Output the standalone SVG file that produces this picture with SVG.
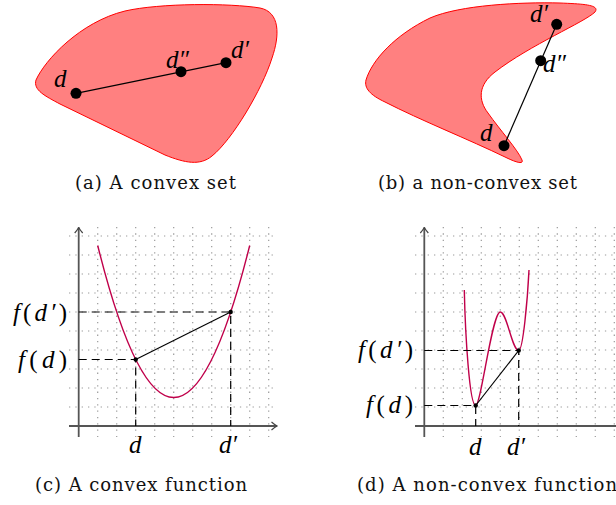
<svg xmlns="http://www.w3.org/2000/svg" width="616" height="505" viewBox="0 0 616 505">
<defs>
<style>
.blob{fill:#ff8080;stroke:#ff0000;stroke-width:1}
.pt{fill:#000}
.seg{stroke:#000;stroke-width:1.2;fill:none}
.dash{stroke:#000;stroke-width:1.2;fill:none;stroke-dasharray:8 5}
.grid{stroke:#9a9a9a;stroke-width:1.2;fill:none;stroke-dasharray:1.3 5.03}
.axis{stroke:#555;stroke-width:1.8;fill:none}
.curve{stroke:#c0004a;stroke-width:1.4;fill:none}
.m{font-family:"Liberation Serif","Times New Roman",serif;font-size:25px;font-style:italic;fill:#000}
.up{font-style:normal}
.cap{font-family:"DejaVu Serif","Liberation Serif",serif;font-size:18px;fill:#111}
</style>
<marker id="arr" viewBox="-7 -5 8 10" refX="0" refY="0" markerWidth="8" markerHeight="10" orient="auto" markerUnits="userSpaceOnUse">
<path d="M-5.5,-4 Q-2,-1 0,0 Q-2,1 -5.5,4" fill="none" stroke="#444" stroke-width="1.2"/>
</marker>
</defs>

<!-- Panel (a) -->
<g id="panel-a">
<path class="blob" d="M36,80 C45,60 80,22 125,11 C160,3 230,3 260,8 C280,12 280,35 272,58 C262,90 232,140 212,156 C200,166 185,163 165,155 L60,104 C45,96 33,90 36,80 Z"/>
</g>
<g id="connectors-a"><line class="seg" x1="76" y1="93.3" x2="226" y2="62.7"/></g>
<g id="a-d"><circle class="pt" cx="76" cy="93.3" r="5.5"/><text class="m" x="54" y="87">d</text></g>
<g id="a-d2"><circle class="pt" cx="181" cy="71.7" r="5.5"/><text class="m" x="166" y="68">d″</text></g>
<g id="a-d1"><circle class="pt" cx="226" cy="62.7" r="5.5"/><text class="m" x="231" y="58">d′</text></g>
<text class="cap" x="75" y="189" textLength="161" lengthAdjust="spacing">(a) A convex set</text>

<!-- Panel (b) -->
<g id="panel-b">
<path class="blob" d="M366,80 C372,60 395,35 430,18 C460,5 520,2 560,3 C585,4 600,5 595,12 C585,22 530,45 495,72 C478,85 478,100 488,113 C500,130 518,150 522,160 C524,165 515,162 505,157 C470,140 420,120 385,102 C370,95 364,88 366,80 Z"/>
</g>
<g id="connectors-b"><line class="seg" x1="504" y1="145.7" x2="556.7" y2="24.3"/></g>
<g id="b-d"><circle class="pt" cx="504" cy="145.7" r="5.5"/><text class="m" x="480" y="141">d</text></g>
<g id="b-d2"><circle class="pt" cx="540.7" cy="60.7" r="5.5"/><text class="m" x="543" y="72">d″</text></g>
<g id="b-d1"><circle class="pt" cx="556.7" cy="24.3" r="5.5"/><text class="m" x="530" y="22">d′</text></g>
<text class="cap" x="378" y="189" textLength="199" lengthAdjust="spacing">(b) a non-convex set</text>

<!-- Panel (c) -->
<g id="panel-c">
<path class="grid" d="M69,407H276M69,388H276M69,369H276M69,350H276M69,331H276M69,312H276M69,293H276M69,274H276M69,255H276M69,236H276M97.7,227V437M116.7,227V437M135.7,227V437M154.7,227V437M173.7,227V437M192.7,227V437M211.7,227V437M230.7,227V437M249.7,227V437M268.7,227V437"/>
<line class="axis" x1="78.7" y1="437" x2="78.7" y2="227.5" marker-end="url(#arr)"/>
<line class="axis" x1="69" y1="426" x2="277" y2="426" marker-end="url(#arr)"/>
<path class="curve" d="M97.7,245.5 Q173.7,549.5 249.7,245.5"/>
</g>
<g id="connectors-c">
<path class="dash" d="M78.7,312H230.7V426M78.7,359.5H135.7V426"/>
<line class="seg" x1="135.7" y1="359.5" x2="230.7" y2="312"/>
</g>
<g id="c-d"><circle class="pt" cx="135.7" cy="359.5" r="2.2"/><text class="m" x="129" y="453">d</text></g>
<g id="c-d1"><circle class="pt" cx="230.7" cy="312" r="2.2"/><text class="m" x="219" y="453">d′</text></g>
<text class="m" x="13" y="321" textLength="54" lengthAdjust="spacing">f<tspan class="up">(</tspan>d′<tspan class="up">)</tspan></text>
<text class="m" x="18" y="368" textLength="49" lengthAdjust="spacing">f<tspan class="up">(</tspan>d<tspan class="up">)</tspan></text>
<text class="cap" x="35" y="491" textLength="212" lengthAdjust="spacing">(c) A convex function</text>

<!-- Panel (d) -->
<g id="panel-d">
<path class="grid" d="M415,407H616M415,388H616M415,369H616M415,350H616M415,331H616M415,312H616M415,293H616M415,274H616M415,255H616M415,236H616M443.3,227V437M462.3,227V437M481.3,227V437M500.3,227V437M519.3,227V437M538.3,227V437M557.3,227V437M576.3,227V437M595.3,227V437M614.3,227V437"/>
<line class="axis" x1="424.3" y1="437" x2="424.3" y2="227.5" marker-end="url(#arr)"/>
<line class="axis" x1="415" y1="426" x2="620" y2="426"/>
<path class="curve" d="M464.3,290 C465.3,335 469.5,405.5 475.7,405.5 C481,405.5 492,312 500.3,312 C507,312 512,350.5 518.7,350.5 C523,350.5 527.5,300 529,270"/>
</g>
<g id="connectors-d">
<path class="dash" d="M424.3,350.5H518.7V426M424.3,405.5H475.7V426"/>
<line class="seg" x1="475.7" y1="405.5" x2="518.7" y2="350.5"/>
</g>
<g id="d-d"><circle class="pt" cx="475.7" cy="405.5" r="2.2"/><text class="m" x="469" y="455">d</text></g>
<g id="d-d1"><circle class="pt" cx="518.7" cy="350.5" r="2.2"/><text class="m" x="507" y="455">d′</text></g>
<text class="m" x="358" y="358" textLength="55" lengthAdjust="spacing">f<tspan class="up">(</tspan>d′<tspan class="up">)</tspan></text>
<text class="m" x="366" y="413" textLength="47" lengthAdjust="spacing">f<tspan class="up">(</tspan>d<tspan class="up">)</tspan></text>
<text class="cap" x="357" y="491" textLength="260" lengthAdjust="spacing">(d) A non-convex function</text>
</svg>
